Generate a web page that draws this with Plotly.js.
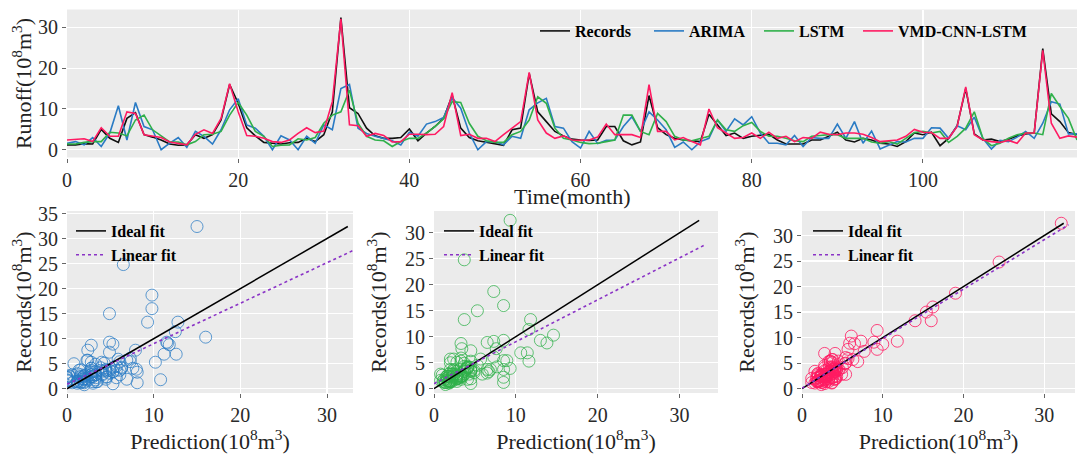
<!DOCTYPE html>
<html><head><meta charset="utf-8">
<script src="https://cdn.plot.ly/plotly-3.0.1.min.js"></script>
<style>html,body{margin:0;padding:0;background:#fff}#chart{width:1079px;height:454px}</style>
</head><body><div id="chart"></div>
<script>
// Monthly runoff (10^8 m^3), months 0..118
const records = [1.2,1.2,1.5,1.4,5.0,2.8,1.8,7.7,9.1,3.7,
3.1,2.4,1.4,1.1,1.2,3.7,2.8,3.7,7.3,16.0,
11.4,5.4,3.4,1.8,1.6,1.4,1.7,1.8,2.8,2.0,
3.7,9.3,32.4,10.3,8.9,5.3,3.4,2.8,2.8,3.0,
5.1,2.2,4.1,5.7,7.7,13.3,5.3,3.0,2.2,1.8,
1.4,1.1,4.9,5.3,18.7,9.3,6.9,4.5,3.4,2.6,
2.4,2.3,2.4,5.7,5.7,2.2,1.2,1.9,13.3,5.4,
3.7,2.8,2.4,2.2,2.0,8.7,6.1,3.5,4.1,2.8,
3.3,3.5,3.8,2.4,1.4,1.4,1.4,2.4,2.4,3.3,
4.3,2.4,1.9,2.8,2.4,1.6,1.4,0.8,2.0,4.1,
3.7,4.3,1.0,2.8,5.9,15.0,3.9,2.4,2.6,2.0,
2.6,3.4,3.9,4.1,24.8,8.8,6.9,4.2,3.7];
const arima = [1.6,2.0,1.2,3.0,0.8,4.1,10.8,2.4,11.6,5.7,
4.9,0.0,1.6,3.0,0.6,4.5,3.3,1.4,4.9,9.8,
12.5,6.1,5.3,3.3,0.0,3.4,2.4,0.0,3.3,1.6,
6.1,4.9,15.0,16.0,5.3,4.0,3.3,2.8,2.2,1.2,
4.3,3.3,6.3,6.9,7.9,12.8,10.2,4.1,0.0,2.0,
2.0,1.2,3.3,2.8,9.8,11.5,12.6,5.7,5.3,2.0,
0.4,4.5,1.5,2.3,2.4,5.7,8.1,4.5,9.3,7.3,
4.9,0.6,1.9,0.0,2.0,2.8,7.3,4.5,7.6,6.1,
8.1,4.1,1.6,1.6,1.2,3.5,0.8,3.0,2.8,2.8,
6.3,2.8,6.9,1.6,4.6,0.2,1.2,2.0,1.9,2.8,
2.8,5.4,5.3,2.8,5.9,4.9,8.0,2.8,0.2,2.3,
2.0,3.1,4.5,2.8,6.5,11.8,11.2,3.9,3.9];
const lstm = [1.4,1.4,1.8,2.0,2.0,4.3,4.1,3.4,7.3,8.5,
4.9,3.3,1.9,1.9,1.2,2.0,3.7,3.8,4.5,8.5,
11.6,8.5,4.5,3.3,0.8,1.1,1.2,2.7,2.4,3.0,
6.5,8.5,9.3,14.6,6.5,3.3,2.4,2.2,0.8,2.0,
2.8,2.8,4.1,5.7,7.6,11.8,11.6,6.5,3.3,2.2,
1.8,1.8,3.7,4.5,7.3,13.0,11.4,5.3,2.8,2.4,
1.8,1.5,1.6,2.0,2.4,8.5,8.5,4.5,3.7,8.9,
6.9,3.3,2.4,2.2,2.8,3.3,7.3,4.9,4.5,5.9,
6.7,4.5,3.3,3.3,2.8,2.2,2.0,3.3,3.5,3.7,
3.7,2.8,2.8,2.8,1.9,1.6,2.0,1.4,2.8,4.2,
4.5,4.1,4.5,1.8,3.3,5.3,9.3,2.8,1.0,1.6,
2.8,3.7,4.1,4.1,3.7,13.8,10.6,7.7,2.4];
const vmd = [2.4,2.5,2.7,2.0,5.4,3.3,3.3,9.3,8.9,3.7,
3.3,3.0,1.9,1.6,1.2,3.8,4.9,4.0,7.7,16.2,
9.3,3.5,3.3,2.8,2.0,1.8,2.4,4.0,5.4,4.2,
4.6,11.8,32.1,6.1,5.9,3.3,4.0,3.5,1.9,2.0,
3.8,3.8,3.7,3.8,5.7,14.0,3.5,3.8,2.8,2.8,
2.0,3.7,5.3,6.9,19.0,7.3,4.1,2.8,3.4,2.4,
2.3,2.4,3.1,6.3,3.7,3.7,3.7,3.0,16.0,4.5,
4.5,2.4,3.0,2.0,1.2,10.0,5.4,4.1,2.8,3.0,
4.1,2.8,4.3,2.8,3.3,2.0,3.0,2.8,4.3,3.8,
3.7,4.1,4.1,3.8,3.0,2.0,2.2,2.4,3.3,5.0,
4.3,4.2,2.8,2.8,5.7,15.4,3.7,2.4,2.0,1.8,
2.3,1.6,4.1,4.1,24.4,6.5,2.8,3.4,3.1];
const months = records.map((_, i) => i);
const seriesNames = ['Records', 'ARIMA', 'LSTM', 'VMD-CNN-LSTM'];
// fit lines
const idealX = [0, 32.4], idealY = [0, 32.4];
const linX = [0, 33];
const linArimaY = [0.9, 27.6];
const linLstmY = [0.96, 27.6];
const linVmdY = [0.1, 32.1];

const W = 1079, H = 454;
const fx = p => p / W, fy = p => 1 - p / H;
const C = {rec:'#111111', arima:'#2a7bc4', lstm:'#2fb04a', vmd:'#ff1a62', lin:'#8a33c6'};
const serif = '"Liberation Serif", "Times New Roman", serif';

const traces = [];
const preds = [arima, lstm, vmd];
const topLegends = ['legend', 'legend5', 'legend6', 'legend7'];
[records, arima, lstm, vmd].forEach((s, k) => {
  traces.push({x: months, y: s, type:'scatter', mode:'lines', name: seriesNames[k],
    line:{color:[C.rec, C.arima, C.lstm, C.vmd][k], width:1.6}, xaxis:'x', yaxis:'y', legend:topLegends[k]});
});
const lins = [linArimaY, linLstmY, linVmdY];
const mcols = ['rgba(42,123,196,0.75)', 'rgba(47,176,74,0.75)', 'rgba(255,26,98,0.8)'];
for (let k = 0; k < 3; k++) {
  const ax = String(k + 2);
  traces.push({x: preds[k], y: records, type:'scatter', mode:'markers', showlegend:false,
    marker:{symbol:'circle-open', size:12, color:mcols[k], line:{width:1, color:mcols[k]}},
    xaxis:'x' + ax, yaxis:'y' + ax});
  traces.push({x: idealX, y: idealY, type:'scatter', mode:'lines', name:'Ideal fit',
    line:{color:'#000', width:1.5}, xaxis:'x' + ax, yaxis:'y' + ax, legend:'legend' + ax});
  traces.push({x: linX, y: lins[k], type:'scatter', mode:'lines', name:'Linear fit',
    line:{color:C.lin, width:1.6, dash:'dot'}, xaxis:'x' + ax, yaxis:'y' + ax, legend:'legend' + ax});
}

const base = {showgrid:true, gridcolor:'#ffffff', gridwidth:1.2, zeroline:false, ticks:'outside',
  ticklen:4, tickcolor:'#666', tickwidth:1, showline:false, automargin:false,
  tickfont:{size:20, color:'#2a2a2a', family:serif}};
const tfont = {size:22, color:'#222', family:serif};
const unit = '(10<sup>8</sup>m<sup>3</sup>)';

const legFont = {family:serif, size:16, color:'#000', weight:'bold'};
const legBase = {xanchor:'left', yanchor:'top', bgcolor:'rgba(0,0,0,0)', font:legFont, tracegroupgap:0};
const topLeg = x => Object.assign({}, legBase, {x:fx(x), y:fy(31), yanchor:'middle'});
const layout = {
  width: W, height: H, margin:{l:0, r:0, t:0, b:0, autoexpand:false},
  paper_bgcolor:'#ffffff', plot_bgcolor:'#EBEBEB',
  font:{family:serif, color:'#222'},
  xaxis: Object.assign({}, base, {domain:[fx(67), fx(1077)], range:[0, 118], dtick:20, anchor:'y'}),
  yaxis: Object.assign({}, base, {domain:[fy(157.5), fy(9.5)], range:[-1.9, 34.4], dtick:10, anchor:'x',
    title:{text:'Runoff' + unit, font:tfont, standoff:0}}),
  xaxis2: Object.assign({}, base, {domain:[fx(67), fx(353)], range:[0, 33], dtick:10, anchor:'y2',
    title:{text:'Prediction' + unit, font:tfont, standoff:8}}),
  yaxis2: Object.assign({}, base, {domain:[fy(393), fy(211)], range:[-0.85, 35.5], dtick:5, anchor:'x2',
    title:{text:'Records' + unit, font:tfont, standoff:0}}),
  xaxis3: Object.assign({}, base, {domain:[fx(434), fx(718)], range:[0, 34.7], dtick:10, anchor:'y3',
    title:{text:'Prediction' + unit, font:tfont, standoff:8}}),
  yaxis3: Object.assign({}, base, {domain:[fy(393), fy(211)], range:[-0.83, 34.2], dtick:5, anchor:'x3',
    title:{text:'Records' + unit, font:tfont, standoff:12}}),
  xaxis4: Object.assign({}, base, {domain:[fx(802), fx(1075)], range:[0, 33.8], dtick:10, anchor:'y4',
    title:{text:'Prediction' + unit, font:tfont, standoff:8}}),
  yaxis4: Object.assign({}, base, {domain:[fy(393), fy(211)], range:[-0.85, 34.8], dtick:5, anchor:'x4',
    title:{text:'Records' + unit, font:tfont, standoff:12}}),
  annotations: [{text:'Time(month)', xref:'x domain', yref:'paper', x:0.5, y:fy(197), xanchor:'center',
    yanchor:'middle', showarrow:false, font:tfont}],
  legend: topLeg(535),
  legend5: topLeg(649),
  legend6: topLeg(759),
  legend7: topLeg(858),
  legend2: Object.assign({}, legBase, {x:fx(71), y:fy(214)}),
  legend3: Object.assign({}, legBase, {x:fx(439), y:fy(214)}),
  legend4: Object.assign({}, legBase, {x:fx(808), y:fy(214)}),
  showlegend: true
};
Plotly.newPlot('chart', traces, layout, {displayModeBar:false, staticPlot:true});
</script></body></html>
